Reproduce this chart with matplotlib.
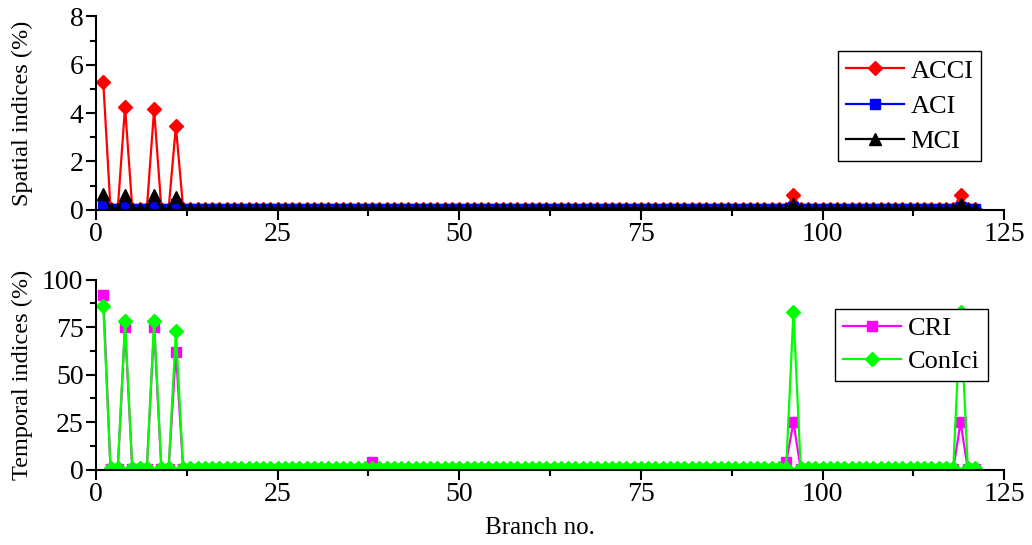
import numpy as np
import matplotlib
matplotlib.use("Agg")
import matplotlib.pyplot as plt
from matplotlib.ticker import MultipleLocator

plt.rcParams['font.family'] = 'serif'
plt.rcParams['font.serif'] = ['Liberation Serif', 'DejaVu Serif']

branch = np.arange(1, 122)

# peak values per branch, everything else sits near zero
acci_peaks = {1: 5.3, 4: 4.25, 8: 4.15, 11: 3.45, 96: 0.6, 119: 0.6}
aci_peaks = {1: 0.25, 4: 0.25, 8: 0.25, 11: 0.25, 96: 0.1, 119: 0.1}
mci_peaks = {1: 0.65, 4: 0.6, 8: 0.6, 11: 0.55, 96: 0.25, 119: 0.25}
cri_peaks = {1: 92, 4: 75, 8: 75, 11: 62, 38: 4, 95: 4, 96: 25, 119: 25}
conici_peaks = {1: 86, 4: 78, 8: 78, 11: 73, 96: 83, 119: 83}

acci = [acci_peaks.get(b, 0.05) for b in branch]
aci = [aci_peaks.get(b, 0.05) for b in branch]
mci = [mci_peaks.get(b, 0.05) for b in branch]
cri = [cri_peaks.get(b, 0.5) for b in branch]
conici = [conici_peaks.get(b, 0.8) for b in branch]

fig = plt.figure(figsize=(10.32, 5.45), dpi=100)
ax1 = fig.add_axes([0.093, 0.615, 0.88, 0.355])
ax2 = fig.add_axes([0.093, 0.138, 0.88, 0.349])

ax1.plot(branch, acci, color='red', marker='D', markersize=7, lw=1.6, label='ACCI')
ax1.plot(branch, aci, color='blue', marker='s', markersize=6.5, lw=1.6, label='ACI')
ax1.plot(branch, mci, color='black', marker='^', markersize=8, lw=1.6, label='MCI')

ax2.plot(branch, cri, color='magenta', marker='s', markersize=6.5, lw=1.6, label='CRI')
ax2.plot(branch, conici, color='lime', marker='D', markersize=7, lw=1.6, label='ConIci')

ax1.set_ylim(0, 8)
ax1.yaxis.set_major_locator(MultipleLocator(2))
ax1.yaxis.set_minor_locator(MultipleLocator(1))
ax2.set_ylim(0, 100)
ax2.yaxis.set_major_locator(MultipleLocator(25))
ax2.yaxis.set_minor_locator(MultipleLocator(12.5))

for ax in (ax1, ax2):
    ax.set_xlim(0, 125)
    ax.xaxis.set_major_locator(MultipleLocator(25))
    ax.xaxis.set_minor_locator(MultipleLocator(12.5))
    ax.spines['top'].set_visible(False)
    ax.spines['right'].set_visible(False)
    ax.spines['left'].set_linewidth(1.5)
    ax.spines['bottom'].set_linewidth(1.5)
    ax.tick_params(which='major', direction='out', length=7, width=1.5,
                   labelsize=20, pad=2)
    ax.tick_params(which='minor', direction='out', length=4, width=1.5)

ax1.set_ylabel('Spatial indices (%)', fontsize=17.5)
ax2.set_ylabel('Temporal indices (%)', fontsize=17.5)
ax1.yaxis.set_label_coords(-0.069, 0.5)
ax2.yaxis.set_label_coords(-0.069, 0.5)
ax2.set_xlabel('Branch no.', fontsize=18)
ax2.xaxis.set_label_coords(0.489, -0.25)

for ax, anchor, spacing in ((ax1, (0.817, 0.82), 0.45), (ax2, (0.814, 0.845), 0.35)):
    leg = ax.legend(loc='upper left', bbox_to_anchor=anchor, fontsize=19,
                    fancybox=False, edgecolor='black', framealpha=1,
                    handlelength=2.2, borderpad=0.3, labelspacing=spacing,
                    handletextpad=0.25, borderaxespad=0)
    leg.get_frame().set_linewidth(1)

fig.savefig('out.png', dpi=100)
